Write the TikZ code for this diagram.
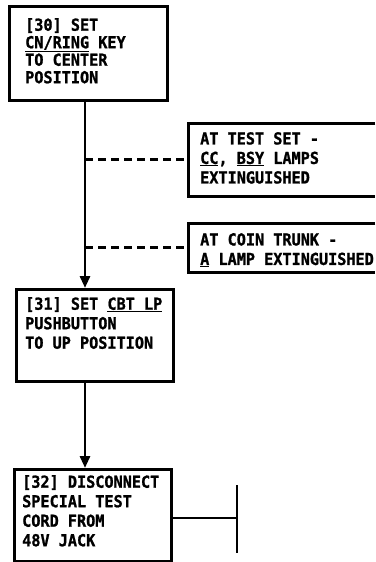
\documentclass[tikz,border=0pt]{standalone}
\usepackage{fontspec}
\newfontfamily\plotfont{DejaVu Sans Mono}[FakeStretch=0.92,BoldFeatures={FakeBold=1.2}]
\usetikzlibrary{arrows.meta,calc}
\tikzset{
  stepbox/.style={draw,line width=3pt,inner sep=0pt,anchor=north west},
  sidebox/.style={inner sep=0pt,anchor=north west},
  boxline/.style={line width=3pt},
  steptext/.style={anchor=north west,inner sep=0pt,align=left,
    font=\plotfont\bfseries\fontsize{16.5}{19.5}\selectfont},
  flow/.style={line width=2.8pt,-{Triangle[width=10pt,length=12pt]}},
  branch/.style={line width=2.8pt,dash pattern=on 8pt off 5pt}
}
\begin{document}
\begin{tikzpicture}[x=1pt,y=-1pt]
\useasboundingbox (0,0) rectangle (375,562);
\coordinate (trunk) at (85,0);
% main steps
\node[stepbox,minimum width=158pt,minimum height=94pt] (s30) at (8,5) {};
\node[stepbox,minimum width=157pt,minimum height=92pt] (s31) at (15,288) {};
\node[stepbox,minimum width=157pt,minimum height=92pt] (s32) at (13,468) {};
\node[steptext,font=\plotfont\bfseries\fontsize{16.5}{17.5}\selectfont] (t30) at (25,18)
  {[30] SET\\\underline{CN/RING} KEY\\TO CENTER\\POSITION};
\node[steptext] (t31) at (25,297) {[31] SET \underline{CBT LP}\\PUSHBUTTON\\TO UP POSITION};
\node[steptext] (t32) at (22,475) {[32] DISCONNECT\\SPECIAL TEST\\CORD FROM\\48V JACK};
% side conditions, open to the right
\node[sidebox,minimum width=187pt,minimum height=73pt] (atest) at (188,123) {};
\node[sidebox,minimum width=187pt,minimum height=49pt] (acoin) at (188,223) {};
\foreach \b in {atest,acoin}
  \draw[boxline] (\b.north east) -- (\b.north west) -- (\b.south west) -- (\b.south east);
\node[steptext] (tatest) at (200,132) {AT TEST SET -\\\underline{CC}, \underline{BSY} LAMPS\\EXTINGUISHED};
\node[steptext] (tacoin) at (200,233) {AT COIN TRUNK -\\\underline{A} LAMP EXTINGUISHED};
% connectors
\draw[flow] (trunk |- s30.south) -- (trunk |- s31.north);
\draw[flow] (trunk |- s31.south) -- (trunk |- s32.north);
\draw[branch] (trunk |- atest.west) -- (atest.west);
\draw[branch] (trunk |- acoin.west) -- (acoin.west);
% end of sequence
\coordinate (stop) at (237,518);
\draw[line width=2.8pt] (stop -| s32.east) -- (stop);
\draw[line width=2.8pt] ($(stop)+(0,-33)$) -- ($(stop)+(0,35)$);
\end{tikzpicture}
\end{document}
